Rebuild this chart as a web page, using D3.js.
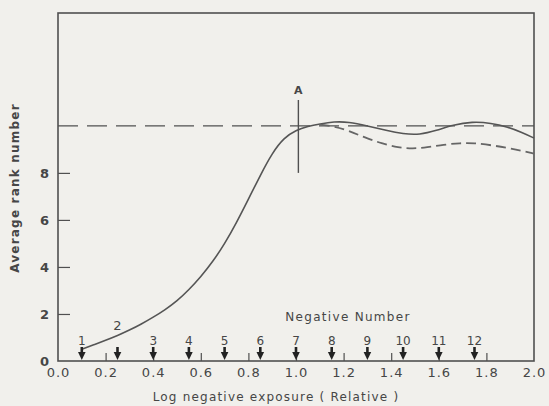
<!DOCTYPE html>
<html>
<head>
<meta charset="utf-8">
<script src="https://cdn.jsdelivr.net/npm/d3@7"></script>
<style>
  html, body { margin: 0; padding: 0; background: #f1f0ec; }
  svg { display: block; }
  text { font-family: "DejaVu Sans", sans-serif; fill: #464646; }
</style>
</head>
<body>
<svg id="chart" width="549" height="406"></svg>
<script>
// Average rank number versus log negative exposure (relative)
const xTickValues = [0.0, 0.2, 0.4, 0.6, 0.8, 1.0, 1.2, 1.4, 1.6, 1.8, 2.0];
const yTickValues = [0, 2, 4, 6, 8];

// Main ranking curve (solid)
const rankX = [0.10, 0.15, 0.20, 0.25, 0.30, 0.35, 0.40, 0.45, 0.50, 0.55, 0.60, 0.65, 0.70, 0.75, 0.80, 0.85, 0.90, 0.95, 1.00, 1.05, 1.10, 1.16, 1.22, 1.30, 1.38, 1.45, 1.52, 1.59, 1.66, 1.74, 1.82, 1.89, 1.95, 2.0];
const rankY = [0.50, 0.69, 0.88, 1.08, 1.31, 1.57, 1.86, 2.18, 2.55, 3.03, 3.58, 4.22, 4.98, 5.88, 6.88, 7.90, 8.85, 9.50, 9.82, 9.98, 10.08, 10.18, 10.17, 10.0, 9.8, 9.66, 9.62, 9.8, 10.04, 10.18, 10.12, 9.95, 9.72, 9.48];

// Alternative ranking beyond the peak (dashed)
const altX = [1.10, 1.16, 1.22, 1.29, 1.36, 1.43, 1.49, 1.55, 1.62, 1.69, 1.75, 1.82, 1.89, 1.95, 2.0];
const altY = [10.05, 9.98, 9.8, 9.5, 9.25, 9.08, 9.03, 9.08, 9.2, 9.27, 9.27, 9.18, 9.06, 8.94, 8.82];

// Reference level and marker A
const referenceLevel = 10;
const markerA = { x: 1.01, yLow: 8, yHigh: 11.1, label: "A" };

// Negative positions along the exposure axis
const negativeNumbers = ["1", "2", "3", "4", "5", "6", "7", "8", "9", "10", "11", "12"];
const negativeX = [0.10, 0.25, 0.40, 0.55, 0.70, 0.85, 1.0, 1.15, 1.30, 1.45, 1.60, 1.75];

const svg = d3.select("#chart");
const plotLeft = 58, plotRight = 534, plotTop = 13, plotBottom = 361;

const x = d3.scaleLinear().domain([0, 2]).range([plotLeft, plotRight]);
const y = d3.scaleLinear().domain([0, 14.8]).range([plotBottom, plotTop]);

const ink = "#505050";

// Frame
svg.append("rect")
  .attr("x", plotLeft).attr("y", plotTop)
  .attr("width", plotRight - plotLeft).attr("height", plotBottom - plotTop)
  .attr("fill", "none").attr("stroke", ink).attr("stroke-width", 1.6);

// X axis with inward ticks
const xAxis = svg.append("g")
  .attr("transform", `translate(0,${plotBottom})`)
  .call(d3.axisBottom(x).tickValues(xTickValues).tickFormat(d3.format(".1f"))
    .tickSizeInner(-8).tickSizeOuter(0).tickPadding(7));
xAxis.select(".domain").remove();
xAxis.selectAll(".tick line").attr("stroke", ink).attr("stroke-width", 1.2)
  .filter(d => d === 0 || d === 2).remove();
xAxis.selectAll(".tick text").attr("font-size", 13).attr("fill", "#464646")
  .attr("font-family", "DejaVu Sans, sans-serif").attr("letter-spacing", 1);

// Y axis with inward ticks
const yAxis = svg.append("g")
  .attr("transform", `translate(${plotLeft},0)`)
  .call(d3.axisLeft(y).tickValues(yTickValues).tickFormat(d3.format("d"))
    .tickSizeInner(-12).tickSizeOuter(0).tickPadding(9));
yAxis.select(".domain").remove();
yAxis.selectAll(".tick line").attr("stroke", ink).attr("stroke-width", 1.2)
  .filter(d => d === 0).remove();
yAxis.selectAll(".tick text").attr("font-size", 13).attr("fill", "#464646")
  .attr("font-weight", "bold")
  .attr("font-family", "DejaVu Sans, sans-serif");

// Horizontal reference level
svg.append("line")
  .attr("x1", x(0)).attr("x2", x(2))
  .attr("y1", y(referenceLevel)).attr("y2", y(referenceLevel))
  .attr("stroke", ink).attr("stroke-width", 1.4)
  .attr("stroke-dasharray", "20,9");

const line = d3.line().x(d => x(d[0])).y(d => y(d[1])).curve(d3.curveBasis);

// Solid curve
svg.append("path")
  .datum(rankX.map((v, i) => [v, rankY[i]]))
  .attr("d", line)
  .attr("fill", "none").attr("stroke", "#555").attr("stroke-width", 1.6);

// Dashed curve
svg.append("path")
  .datum(altX.map((v, i) => [v, altY[i]]))
  .attr("d", line)
  .attr("fill", "none").attr("stroke", "#666").attr("stroke-width", 1.8)
  .attr("stroke-dasharray", "10,5");

// Marker A
svg.append("line")
  .attr("x1", x(markerA.x)).attr("x2", x(markerA.x))
  .attr("y1", y(markerA.yLow)).attr("y2", y(markerA.yHigh))
  .attr("stroke", ink).attr("stroke-width", 1.4);
svg.append("text")
  .attr("x", x(markerA.x)).attr("y", y(markerA.yHigh) - 6)
  .attr("text-anchor", "middle").attr("font-size", 11).attr("font-weight", "bold")
  .text(markerA.label);

// Negative markers: small downward arrows on the axis
const marks = svg.append("g");
negativeX.forEach((v, i) => {
  const cx = x(v);
  marks.append("line")
    .attr("x1", cx).attr("x2", cx).attr("y1", plotBottom - 14).attr("y2", plotBottom - 6)
    .attr("stroke", "#222").attr("stroke-width", 2.6);
  marks.append("path")
    .attr("d", `M${cx - 3.8},${plotBottom - 9} L${cx + 3.8},${plotBottom - 9} L${cx},${plotBottom - 1} Z`)
    .attr("fill", "#222");
  const raised = negativeNumbers[i] === "2";
  marks.append("text")
    .attr("x", cx)
    .attr("y", raised ? 330 : 345)
    .attr("text-anchor", "middle")
    .attr("font-size", raised ? 13 : 12)
    .text(negativeNumbers[i]);
});

// Labels
svg.append("text")
  .attr("x", 348).attr("y", 321)
  .attr("text-anchor", "middle").attr("font-size", 12).attr("letter-spacing", 1.3)
  .text("Negative Number");

svg.append("text")
  .attr("x", 276).attr("y", 401)
  .attr("text-anchor", "middle").attr("font-size", 12).attr("letter-spacing", 1.2)
  .text("Log negative exposure ( Relative )");

svg.append("text")
  .attr("transform", "translate(19,188) rotate(-90)")
  .attr("text-anchor", "middle").attr("font-size", 12).attr("font-weight", "bold")
  .attr("letter-spacing", 1.2)
  .text("Average rank number");
</script>
</body>
</html>
